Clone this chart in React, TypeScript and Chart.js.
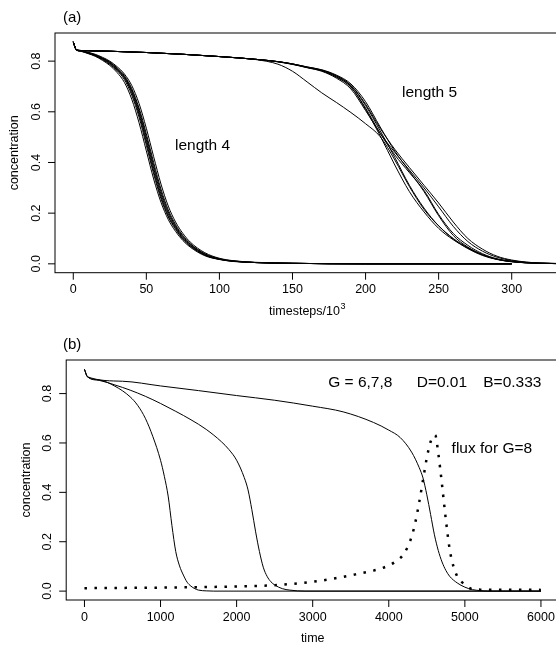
import React, { useEffect, useRef } from "react";
import { Chart, registerables } from "chart.js";

Chart.register(...registerables);

const FONT = '"Liberation Sans", Arial, Helvetica, sans-serif';

// ---------- Panel (a): concentration vs timesteps/10^3 ----------
const stepsLen4 = [0, 2, 5, 10, 15, 20, 25, 30, 35, 40, 45, 50, 55, 60, 65, 70, 75, 80, 90, 100, 110, 125, 150, 200, 250, 300];
const len4Run1 = [0.876, 0.845, 0.840, 0.832, 0.822, 0.808, 0.790, 0.765, 0.733, 0.675, 0.590, 0.480, 0.365, 0.265, 0.190, 0.140, 0.100, 0.072, 0.035, 0.018, 0.010, 0.005, 0.002, 0, 0, 0];
const len4Run2 = [0.876, 0.845, 0.839, 0.830, 0.819, 0.803, 0.783, 0.755, 0.716, 0.650, 0.557, 0.446, 0.335, 0.243, 0.175, 0.128, 0.092, 0.066, 0.032, 0.017, 0.009, 0.005, 0.002, 0, 0, 0];
const len4Run3 = [0.876, 0.845, 0.840, 0.831, 0.821, 0.806, 0.787, 0.762, 0.727, 0.666, 0.579, 0.468, 0.355, 0.257, 0.185, 0.136, 0.097, 0.070, 0.034, 0.018, 0.010, 0.005, 0.002, 0, 0, 0];
const len4Run4 = [0.876, 0.845, 0.840, 0.833, 0.823, 0.810, 0.793, 0.768, 0.736, 0.681, 0.598, 0.491, 0.377, 0.275, 0.198, 0.145, 0.104, 0.075, 0.037, 0.019, 0.010, 0.005, 0.002, 0, 0, 0];
const len4Run5 = [0.876, 0.845, 0.841, 0.833, 0.824, 0.811, 0.795, 0.770, 0.739, 0.687, 0.607, 0.502, 0.388, 0.285, 0.205, 0.150, 0.108, 0.078, 0.039, 0.019, 0.011, 0.005, 0.002, 0, 0, 0];
const len4Run6 = [0.876, 0.845, 0.841, 0.834, 0.825, 0.812, 0.797, 0.773, 0.743, 0.692, 0.615, 0.513, 0.400, 0.295, 0.213, 0.155, 0.112, 0.080, 0.040, 0.020, 0.011, 0.005, 0.002, 0, 0, 0];
const len4Run7 = [0.876, 0.845, 0.841, 0.835, 0.827, 0.815, 0.800, 0.778, 0.749, 0.704, 0.633, 0.535, 0.423, 0.315, 0.228, 0.165, 0.120, 0.086, 0.044, 0.022, 0.012, 0.006, 0.002, 0, 0, 0];

const stepsLen5 = [0, 2, 5, 25, 50, 75, 100, 125, 140, 150, 160, 170, 180, 190, 200, 210, 220, 230, 240, 250, 260, 270, 280, 290, 300, 310, 320, 345];
const len5Run1 = [0.876, 0.846, 0.842, 0.839, 0.834, 0.827, 0.818, 0.807, 0.798, 0.788, 0.775, 0.762, 0.737, 0.697, 0.615, 0.515, 0.430, 0.360, 0.290, 0.195, 0.120, 0.073, 0.040, 0.020, 0.010, 0.005, 0.002, 0];
const len5Run2 = [0.876, 0.846, 0.842, 0.839, 0.834, 0.827, 0.818, 0.807, 0.798, 0.788, 0.775, 0.762, 0.738, 0.698, 0.610, 0.505, 0.390, 0.285, 0.205, 0.140, 0.095, 0.062, 0.035, 0.018, 0.009, 0.004, 0.002, 0];
const len5Run3 = [0.876, 0.846, 0.842, 0.839, 0.834, 0.827, 0.818, 0.807, 0.798, 0.789, 0.776, 0.764, 0.742, 0.703, 0.625, 0.525, 0.420, 0.310, 0.220, 0.150, 0.098, 0.060, 0.033, 0.017, 0.008, 0.004, 0.002, 0];
const len5Run4 = [0.876, 0.846, 0.842, 0.839, 0.834, 0.827, 0.818, 0.807, 0.798, 0.789, 0.777, 0.765, 0.742, 0.705, 0.630, 0.535, 0.452, 0.380, 0.310, 0.240, 0.165, 0.100, 0.058, 0.030, 0.015, 0.007, 0.003, 0];
const len5Run5 = [0.876, 0.846, 0.842, 0.839, 0.834, 0.827, 0.818, 0.807, 0.797, 0.787, 0.774, 0.760, 0.733, 0.690, 0.605, 0.515, 0.440, 0.370, 0.300, 0.225, 0.148, 0.088, 0.050, 0.026, 0.013, 0.006, 0.003, 0];
const len5Run6 = [0.876, 0.846, 0.842, 0.839, 0.834, 0.827, 0.818, 0.806, 0.788, 0.760, 0.718, 0.675, 0.637, 0.597, 0.553, 0.502, 0.410, 0.305, 0.215, 0.150, 0.100, 0.064, 0.036, 0.018, 0.009, 0.004, 0.002, 0];
const len5Run7 = [0.876, 0.846, 0.842, 0.839, 0.834, 0.827, 0.818, 0.807, 0.798, 0.789, 0.777, 0.766, 0.745, 0.710, 0.640, 0.540, 0.445, 0.365, 0.285, 0.190, 0.112, 0.066, 0.036, 0.018, 0.009, 0.004, 0.002, 0];

const len4Runs = [len4Run1, len4Run2, len4Run3, len4Run4, len4Run5, len4Run6, len4Run7];
const len5Runs = [len5Run1, len5Run2, len5Run3, len5Run4, len5Run5, len5Run6, len5Run7];

const xTicksA = [0, 50, 100, 150, 200, 250, 300];
const xTickLabelsA = ["0", "50", "100", "150", "200", "250", "300"];
const yTicks = [0, 0.2, 0.4, 0.6, 0.8];
const yTickLabels = ["0.0", "0.2", "0.4", "0.6", "0.8"];

// ---------- Panel (b): concentration vs time ----------
const timeG6 = [0, 40, 200, 400, 600, 700, 800, 900, 1000, 1050, 1100, 1150, 1200, 1250, 1300, 1350, 1400, 1450, 1500, 1600, 1700, 6000];
const concG6 = [0.898, 0.868, 0.855, 0.830, 0.787, 0.752, 0.700, 0.625, 0.530, 0.465, 0.385, 0.265, 0.160, 0.102, 0.065, 0.036, 0.020, 0.010, 0.004, 0.001, 0, 0];
const timeG7 = [0, 40, 200, 400, 600, 800, 1000, 1200, 1400, 1600, 1800, 1900, 2000, 2100, 2150, 2200, 2250, 2300, 2350, 2400, 2450, 2500, 2600, 2700, 2800, 2900, 6000];
const concG7 = [0.898, 0.868, 0.853, 0.835, 0.814, 0.789, 0.760, 0.728, 0.694, 0.655, 0.605, 0.573, 0.530, 0.460, 0.410, 0.330, 0.240, 0.160, 0.097, 0.060, 0.038, 0.025, 0.010, 0.004, 0.001, 0, 0];
const timeG8 = [0, 40, 500, 1000, 1500, 2000, 2500, 3000, 3400, 3800, 4000, 4150, 4300, 4400, 4450, 4500, 4550, 4600, 4650, 4700, 4750, 4800, 4900, 5000, 5100, 5200, 5300, 6000];
const concG8 = [0.898, 0.868, 0.850, 0.831, 0.812, 0.792, 0.773, 0.749, 0.726, 0.683, 0.652, 0.622, 0.563, 0.500, 0.458, 0.390, 0.310, 0.228, 0.165, 0.118, 0.084, 0.060, 0.033, 0.016, 0.006, 0.002, 0, 0];
const timeFlux = [0, 500, 1000, 1500, 2000, 2500, 3000, 3300, 3600, 3800, 3900, 4000, 4100, 4200, 4300, 4350, 4400, 4450, 4500, 4550, 4610, 4650, 4700, 4750, 4800, 4850, 4900, 5000, 5100, 5200, 6000];
const fluxG8 = [0.012, 0.013, 0.014, 0.016, 0.019, 0.024, 0.038, 0.052, 0.070, 0.083, 0.092, 0.104, 0.122, 0.152, 0.220, 0.280, 0.360, 0.450, 0.540, 0.605, 0.632, 0.560, 0.430, 0.290, 0.170, 0.100, 0.060, 0.026, 0.008, 0.006, 0.005];

const xTicksB = [0, 1000, 2000, 3000, 4000, 5000, 6000];
const xTickLabelsB = ["0", "1000", "2000", "3000", "4000", "5000", "6000"];

type Note = { text: string; x: number; y: number };

const notesA: Note[] = [
  { text: "length 4", x: 69.6, y: 0.465 },
  { text: "length 5", x: 224.9, y: 0.677 },
];
const notesB: Note[] = [
  { text: "G = 6,7,8", x: 3204, y: 0.846 },
  { text: "D=0.01", x: 4367, y: 0.846 },
  { text: "B=0.333", x: 5242, y: 0.846 },
  { text: "flux for G=8", x: 4826, y: 0.578 },
];

function toPoints(xs: number[], ys: number[]) {
  return xs.map((x, i) => ({ x, y: ys[i] }));
}

function solid(xs: number[], ys: number[]) {
  return {
    data: toPoints(xs, ys),
    borderColor: "#000",
    borderWidth: 1,
    pointRadius: 0,
    fill: false,
    cubicInterpolationMode: "monotone" as const,
  };
}

type PanelCfg = {
  label: string;
  xTicks: number[];
  xLabels: string[];
  xTitle: string;
  xTitleSup: string;
  yTitle: string;
  notes: Note[];
};

function panelPlugin(cfg: PanelCfg) {
  return {
    id: "panelDecor",
    afterDraw(chart: any) {
      const { ctx, chartArea: a, scales } = chart;
      const x = scales.x;
      const y = scales.y;
      ctx.save();
      ctx.strokeStyle = "#000";
      ctx.lineWidth = 1;
      ctx.strokeRect(a.left, a.top, a.right - a.left, a.bottom - a.top);
      ctx.beginPath();
      cfg.xTicks.forEach((v) => {
        const px = x.getPixelForValue(v);
        ctx.moveTo(px, a.bottom);
        ctx.lineTo(px, a.bottom + 7);
      });
      yTicks.forEach((v) => {
        const py = y.getPixelForValue(v);
        ctx.moveTo(a.left, py);
        ctx.lineTo(a.left - 7, py);
      });
      ctx.stroke();

      ctx.fillStyle = "#000";
      ctx.font = `12.5px ${FONT}`;
      ctx.textAlign = "center";
      ctx.textBaseline = "middle";
      cfg.xTicks.forEach((v, i) => {
        ctx.fillText(cfg.xLabels[i], x.getPixelForValue(v), a.bottom + 17.3);
      });
      yTicks.forEach((v, i) => {
        ctx.save();
        ctx.translate(a.left - 18.3, y.getPixelForValue(v));
        ctx.rotate(-Math.PI / 2);
        ctx.fillText(yTickLabels[i], 0, 0);
        ctx.restore();
      });

      // x title (with optional superscript)
      const cx = (a.left + a.right) / 2;
      const ty = a.bottom + 38.5;
      const mainW = ctx.measureText(cfg.xTitle).width;
      let supW = 0;
      if (cfg.xTitleSup) {
        ctx.font = `9px ${FONT}`;
        supW = ctx.measureText(cfg.xTitleSup).width + 0.5;
        ctx.font = `12.5px ${FONT}`;
      }
      const startX = cx - (mainW + supW) / 2;
      ctx.textAlign = "left";
      ctx.fillText(cfg.xTitle, startX, ty);
      if (cfg.xTitleSup) {
        ctx.font = `9px ${FONT}`;
        ctx.fillText(cfg.xTitleSup, startX + mainW + 0.5, ty - 5);
        ctx.font = `12.5px ${FONT}`;
      }
      ctx.textAlign = "center";

      ctx.save();
      ctx.translate(a.left - 40, (a.top + a.bottom) / 2);
      ctx.rotate(-Math.PI / 2);
      ctx.fillText(cfg.yTitle, 0, 0);
      ctx.restore();

      ctx.font = `15px ${FONT}`;
      ctx.textAlign = "left";
      ctx.fillText(cfg.label, 63, a.top - 15);

      ctx.font = `15.5px ${FONT}`;
      cfg.notes.forEach((n) => {
        ctx.fillText(n.text, x.getPixelForValue(n.x), y.getPixelForValue(n.y));
      });
      ctx.restore();
    },
  };
}

function makeChart(
  canvas: HTMLCanvasElement,
  datasets: any[],
  xRange: [number, number],
  yRange: [number, number],
  padding: { left: number; right: number; top: number; bottom: number },
  cfg: PanelCfg
) {
  return new Chart(canvas, {
    type: "line",
    data: { datasets },
    options: {
      animation: false,
      responsive: false,
      maintainAspectRatio: false,
      events: [],
      layout: { padding },
      plugins: {
        legend: { display: false },
        tooltip: { enabled: false },
        title: { display: false },
      },
      scales: {
        x: { type: "linear", display: false, min: xRange[0], max: xRange[1] },
        y: { type: "linear", display: false, min: yRange[0], max: yRange[1] },
      },
    },
    plugins: [panelPlugin(cfg)],
  } as any);
}

export default function App() {
  const refA = useRef<HTMLCanvasElement>(null);
  const refB = useRef<HTMLCanvasElement>(null);

  useEffect(() => {
    const dsA = [
      ...len4Runs.map((r) => solid(stepsLen4, r)),
      ...len5Runs.map((r) => solid(stepsLen5, r)),
    ];
    const chartA = makeChart(
      refA.current!,
      dsA,
      [-12.5, 332.7],
      [-0.035, 0.911],
      { left: 55, right: 20.5, top: 33, bottom: 49.3 },
      {
        label: "(a)",
        xTicks: xTicksA,
        xLabels: xTickLabelsA,
        xTitle: "timesteps/10",
        xTitleSup: "3",
        yTitle: "concentration",
        notes: notesA,
      }
    );

    const dsB = [
      solid(timeG6, concG6),
      solid(timeG7, concG7),
      solid(timeG8, concG8),
      {
        data: toPoints(timeFlux, fluxG8),
        borderColor: "#000",
        borderWidth: 2.5,
        borderDash: [2.5, 7.5],
        borderCapStyle: "butt",
        pointRadius: 0,
        fill: false,
        cubicInterpolationMode: "monotone",
      },
    ];
    const chartB = makeChart(
      refB.current!,
      dsB,
      [-240, 6240],
      [-0.036, 0.936],
      { left: 66.2, right: 20.8, top: 38, bottom: 45 },
      {
        label: "(b)",
        xTicks: xTicksB,
        xLabels: xTickLabelsB,
        xTitle: "time",
        xTitleSup: "",
        yTitle: "concentration",
        notes: notesB,
      }
    );

    return () => {
      chartA.destroy();
      chartB.destroy();
    };
  }, []);

  return (
    <div
      style={{
        position: "absolute",
        left: 0,
        top: 0,
        width: 556,
        height: 645,
        overflow: "hidden",
        background: "#fff",
      }}
    >
      <canvas
        ref={refA}
        width={580}
        height={322}
        style={{ position: "absolute", left: 0, top: 0, width: 580, height: 322 }}
      />
      <canvas
        ref={refB}
        width={580}
        height={323}
        style={{ position: "absolute", left: 0, top: 322, width: 580, height: 323 }}
      />
    </div>
  );
}
